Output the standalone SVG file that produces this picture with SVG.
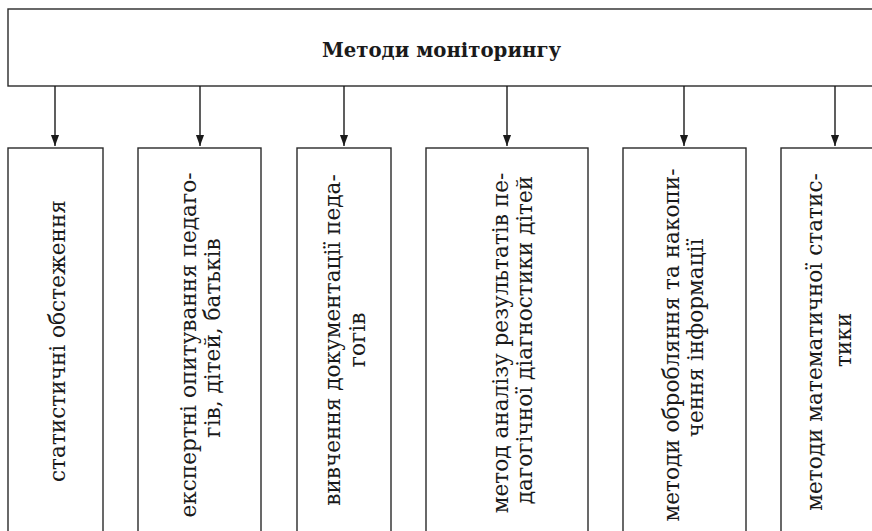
<svg xmlns="http://www.w3.org/2000/svg" width="872" height="531" viewBox="0 0 872 531">
<defs>
<style>
.box{fill:#fff;stroke:#2a2a2a;stroke-width:1.4}
.t{font-family:"DejaVu Serif","Liberation Serif",serif;font-size:21.6px;fill:#1a1a1a;text-anchor:middle}
.title{font-family:"DejaVu Serif","Liberation Serif",serif;font-size:19.7px;font-weight:bold;fill:#1a1a1a;text-anchor:middle}
.c{stroke:#1a1a1a;stroke-width:1.4;fill:none}
</style>
<marker id="ah" markerWidth="11" markerHeight="15" refX="15" refY="5.5" orient="auto" markerUnits="userSpaceOnUse" viewBox="0 0 15 11">
<path d="M0,0 L15,5.5 L0,11 Z" fill="#1a1a1a"/>
</marker>
</defs>
<rect width="872" height="531" fill="#fff"/>
<g id="root">
<rect class="box" x="8" y="9" width="880" height="77"/>
<text class="title" x="441.5" y="57">Методи моніторингу</text>
</g>
<g id="n1">
<rect class="box" x="8" y="148" width="95" height="400"/>
<text class="t" transform="translate(65,341) rotate(-90)">статистичні обстеження</text>
</g>
<g id="n2">
<rect class="box" x="138" y="148" width="123" height="400"/>
<text class="t" transform="translate(196,345) rotate(-90)">експертні опитування педаго-</text>
<text class="t" transform="translate(220,338) rotate(-90)">гів, дітей, батьків</text>
</g>
<g id="n3">
<rect class="box" x="297" y="148" width="94" height="400"/>
<text class="t" transform="translate(340,340) rotate(-90)">вивчення документації педа-</text>
<text class="t" transform="translate(365,340) rotate(-90)">гогів</text>
</g>
<g id="n4">
<rect class="box" x="426" y="148" width="162" height="400"/>
<text class="t" transform="translate(508,343) rotate(-90)">метод аналізу результатів пе-</text>
<text class="t" transform="translate(532,340) rotate(-90)">дагогічної діагностики дітей</text>
</g>
<g id="n5">
<rect class="box" x="623" y="148" width="123" height="400"/>
<text class="t" transform="translate(679,345) rotate(-90)">методи обробляння та накопи-</text>
<text class="t" transform="translate(703,338) rotate(-90)">чення інформації</text>
</g>
<g id="n6">
<rect class="box" x="781" y="148" width="110" height="400"/>
<text class="t" transform="translate(822,342) rotate(-90)">методи математичної статис-</text>
<text class="t" transform="translate(851,340) rotate(-90)">тики</text>
</g>
<g id="connectors">
<line class="c" x1="55" y1="86" x2="55" y2="146" marker-end="url(#ah)"/>
<line class="c" x1="200" y1="86" x2="200" y2="146" marker-end="url(#ah)"/>
<line class="c" x1="344" y1="86" x2="344" y2="146" marker-end="url(#ah)"/>
<line class="c" x1="507" y1="86" x2="507" y2="146" marker-end="url(#ah)"/>
<line class="c" x1="684" y1="86" x2="684" y2="146" marker-end="url(#ah)"/>
<line class="c" x1="835" y1="86" x2="835" y2="146" marker-end="url(#ah)"/>
</g>
</svg>
